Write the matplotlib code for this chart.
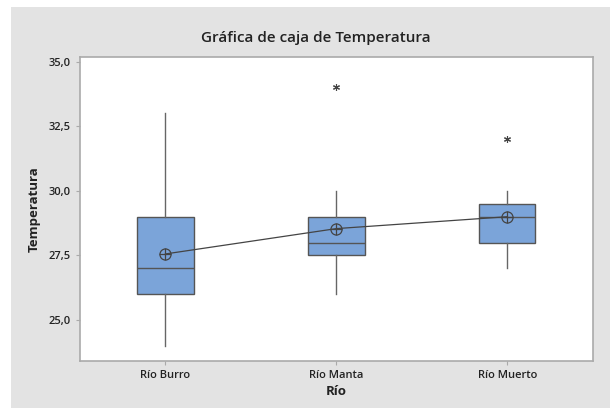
import matplotlib.pyplot as plt
from matplotlib.patches import Rectangle
from matplotlib.ticker import FuncFormatter

plt.rcParams['font.family'] = ['Open Sans', 'DejaVu Sans']

# five-number summaries per river
rios = ['Río Burro', 'Río Manta', 'Río Muerto']
minimo = [24.0, 26.0, 27.0]
q1 = [26.0, 27.5, 28.0]
mediana = [27.0, 28.0, 29.0]
q3 = [29.0, 29.0, 29.5]
maximo = [33.0, 30.0, 30.0]
medias = [27.56, 28.54, 29.0]
atipicos = [[], [34.0], [32.0]]

fig = plt.figure(figsize=(6.1, 4.08), dpi=100)
fig.patch.set_facecolor('white')
# gray panel behind the plot
fig.patches.append(Rectangle((11 / 610, 0), 1, 1 - 7 / 408, transform=fig.transFigure,
                             facecolor='#e3e3e3', edgecolor='none', zorder=-10))

ax = fig.add_axes([80 / 610, 1 - 360.7 / 408, 512.7 / 610, 304 / 408])
ax.set_facecolor('white')

stats = []
for i in range(len(rios)):
    stats.append(dict(med=mediana[i], q1=q1[i], q3=q3[i], whislo=minimo[i],
                      whishi=maximo[i], fliers=atipicos[i], label=rios[i]))

pos = [1, 2, 3]
ax.bxp(stats, positions=pos, widths=0.33, patch_artist=True, showcaps=False,
       boxprops=dict(facecolor='#7ba4d9', edgecolor='#555555', linewidth=1.0),
       medianprops=dict(color='#555555', linewidth=1.0),
       whiskerprops=dict(color='#666666', linewidth=1.0),
       flierprops=dict(marker=(6, 2, 0), markersize=5, markeredgecolor='#444444',
                       markeredgewidth=0.8, linestyle='none'))

# connect the means
ax.plot(pos, medias, color='#444444', linewidth=0.9, zorder=4)
ax.plot(pos, medias, linestyle='none', marker='o', markersize=8, markerfacecolor='none',
        markeredgecolor='#444444', markeredgewidth=0.9, zorder=5)
ax.plot(pos, medias, linestyle='none', marker='+', markersize=8,
        markeredgecolor='#444444', markeredgewidth=0.9, zorder=5)

ax.set_xlim(0.5, 3.5)
ax.set_ylim(23.43, 35.19)
ax.set_yticks([25.0, 27.5, 30.0, 32.5, 35.0])
ax.yaxis.set_major_formatter(FuncFormatter(lambda v, p: f'{v:.1f}'.replace('.', ',')))
ax.set_xticks(pos)
ax.set_xticklabels(rios)

for s in ax.spines.values():
    s.set_color('#aaaaaa')
    s.set_linewidth(1.2)
ax.tick_params(colors='#aaaaaa', labelcolor='#222222', length=3, width=0.8, labelsize=8)
for lb in ax.get_xticklabels() + ax.get_yticklabels():
    lb.set_fontweight('semibold')

ax.set_ylabel('Temperatura', fontsize=9.5, fontweight='bold', color='#222222', labelpad=6)
ax.set_xlabel('Río', fontsize=9.5, fontweight='bold', color='#222222', labelpad=3)
fig.text(316 / 610, 1 - 38 / 408, 'Gráfica de caja de Temperatura', ha='center', va='center',
         fontsize=11, fontweight='semibold', color='#222222')

fig.savefig('out.png', dpi=100)
